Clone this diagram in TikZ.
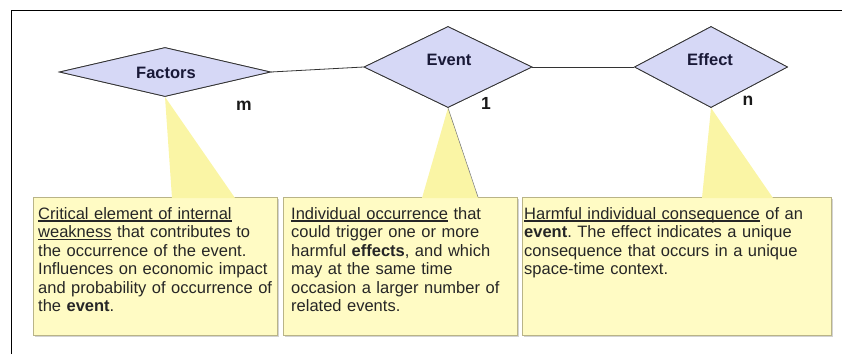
\documentclass[tikz,border=0pt]{standalone}
\usepackage{fontspec}
\setmainfont{Liberation Sans}
\usepackage{xcolor}
\usepackage{tikz}
\usetikzlibrary{shapes.geometric, shadows}

\definecolor{relfill}{RGB}{214,216,246}
\definecolor{notefill}{RGB}{255,251,196}
\definecolor{tailfill}{RGB}{250,245,165}
\definecolor{noteline}{RGB}{185,180,135}
\definecolor{reltext}{RGB}{25,25,55}

% underline at a fixed depth below the baseline
\newcommand{\ulnote}[1]{\leavevmode\setbox0\hbox{#1}\rlap{\vrule height -1.4pt depth 2.5pt width\wd0}\box0\relax}
\frenchspacing

\begin{document}
\begin{tikzpicture}[x=1pt, y=-1pt,
  rel/.style={diamond, draw=black!80, line width=0.8pt, fill=relfill, inner sep=0pt},
  rellbl/.style={font=\bfseries\fontsize{16.5}{18}\selectfont, text=reltext, inner sep=0pt, anchor=base},
  card/.style={font=\bfseries\fontsize{17.5}{18}\selectfont, text=black!90, inner sep=0pt, anchor=base},
  note/.style={draw=noteline, line width=0.6pt, fill=notefill, anchor=north west, inner sep=0pt, minimum height=138pt, drop shadow={shadow xshift=1.5pt, shadow yshift=-1.5pt, opacity=0.35}},
  notetxt/.style={font=\fontsize{16.5}{18.5}\selectfont, text=black!85, inner sep=0pt, anchor=base west, align=left, text width=300pt},
  tail/.style={fill=tailfill},
  link/.style={draw=black!80, line width=0.8pt}
]
  \useasboundingbox (0,0) rectangle (842,354);

  % frame
  \draw[line width=0.9pt] (11,354) -- (11,10) -- (842,10);

  % 1. Note boxes
  \node[note, minimum width=244pt] (nfac) at (33,197) {};
  \node[note, minimum width=234pt] (nev) at (283,197) {};
  \node[note, minimum width=309pt] (neff) at (522,197) {};

  % 2. Diamonds (entities / relations)
  \node[rel, minimum width=211pt, minimum height=49pt] (factors) at (165,72) {};
  \node[rel, minimum width=168pt, minimum height=81pt] (event) at (448,67) {};
  \node[rel, minimum width=153pt, minimum height=81pt] (effect) at (711,67) {};

  % Callout tails from diamonds to notes
  \fill[tail] (factors.south) -- (172,198) -- (235,198) -- cycle;
  \fill[tail] (event.south) -- (422,198) -- (478,198) -- cycle;
  \draw[black!55, line width=0.5pt] (event.south) -- (478,197);
  \fill[tail] (effect.south) -- (702,198) -- (773,198) -- cycle;

  % redraw diamonds over the tails
  \node[rel, minimum width=211pt, minimum height=49pt] at (factors) {};
  \node[rel, minimum width=168pt, minimum height=81pt] at (event) {};
  \node[rel, minimum width=153pt, minimum height=81pt] at (effect) {};

  % Links
  \draw[link] (factors.east) -- (event.west);
  \draw[link] (event.east) -- (effect.west);

  % Labels
  \node[rellbl] (lfac) at (166,78) {Factors};
  \node[rellbl] (lev) at (449,65) {Event};
  \node[rellbl] (leff) at (710,65) {Effect};

  \node[card] (cm) at (244,110) {m};
  \node[card] (c1) at (486,109) {1};
  \node[card] (cn) at (748,105) {n};

  % 3. Note texts
  \node[notetxt] (tfac) at (38,219) {\ulnote{Critical element of internal}\\
    \ulnote{weakness} that contributes to\\
    the occurrence of the event.\\
    Influences on economic impact\\
    and probability of occurrence of\\
    the \textbf{event}.};
  \node[notetxt] (tev) at (291,219) {\ulnote{Individual occurrence} that\\
    could trigger one or more\\
    harmful \textbf{effects}, and which\\
    may at the same time\\
    occasion a larger number of\\
    related events.};
  \node[notetxt] (teff) at (524,219) {\ulnote{Harmful individual consequence} of an\\
    \textbf{event}. The effect indicates a unique\\
    consequence that occurs in a unique\\
    space-time context.};

\end{tikzpicture}
\end{document}
